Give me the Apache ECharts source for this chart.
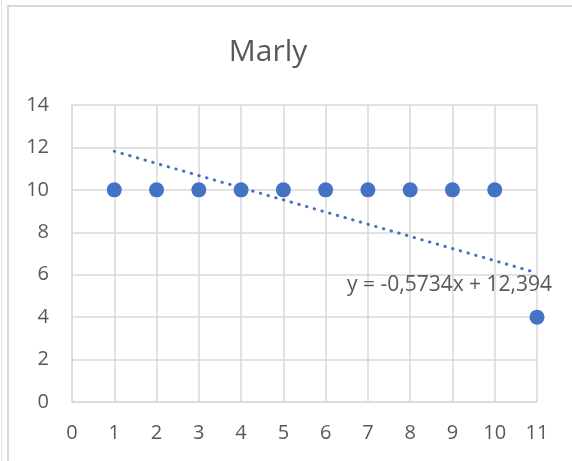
<!DOCTYPE html>
<html>
<head>
<meta charset="utf-8">
<script src="https://cdn.jsdelivr.net/npm/echarts@6/dist/echarts.min.js"></script>
<style>
html,body{margin:0;padding:0;background:#fff;}
#chart{width:572px;height:461px;}
</style>
</head>
<body>
<div id="chart"></div>
<script>
const title = "Marly";
const xValues = [1, 2, 3, 4, 5, 6, 7, 8, 9, 10, 11];
const yValues = [10, 10, 10, 10, 10, 10, 10, 10, 10, 10, 4];
const trendSlope = -0.5734;
const trendIntercept = 12.394;
const trendLabel = "y = -0,5734x + 12,394";
const xTicks = [0, 1, 2, 3, 4, 5, 6, 7, 8, 9, 10, 11];
const yTicks = [0, 2, 4, 6, 8, 10, 12, 14];

const points = xValues.map((x, i) => [x, yValues[i]]);
const xStart = xValues[0], xEnd = xValues[xValues.length - 1];
const trend = [[xStart, trendSlope * xStart + trendIntercept], [xEnd, trendSlope * xEnd + trendIntercept]];

const chart = echarts.init(document.getElementById('chart'), null, {renderer: 'canvas'});
const labelStyle = {color: '#595959', fontSize: 20, fontFamily: 'Open Sans'};
const gridColor = '#d9d9d9';
chart.setOption({
  animation: false,
  backgroundColor: '#fff',
  title: {
    text: title,
    left: 263, top: 32, textAlign: 'center',
    textStyle: {color: '#595959', fontSize: 30, fontWeight: 'normal', fontFamily: 'Open Sans'}
  },
  grid: {left: 72, right: 35, top: 105, bottom: 59},
  xAxis: {
    type: 'value', min: xTicks[0], max: xTicks[xTicks.length - 1], interval: 1,
    axisLine: {show: true, lineStyle: {color: gridColor, width: 1.5}},
    axisTick: {show: false},
    splitLine: {show: true, lineStyle: {color: gridColor, width: 1.5}},
    axisLabel: Object.assign({margin: 21}, labelStyle)
  },
  yAxis: {
    type: 'value', min: yTicks[0], max: yTicks[yTicks.length - 1], interval: 2,
    axisLine: {show: true, lineStyle: {color: gridColor, width: 1.5}},
    axisTick: {show: false},
    splitLine: {show: true, lineStyle: {color: gridColor, width: 1.5}},
    axisLabel: Object.assign({margin: 23}, labelStyle)
  },
  graphic: [
    {type: 'line', shape: {x1: 1.5, y1: 0, x2: 1.5, y2: 461}, style: {stroke: '#e3e3e3', lineWidth: 1}},
    {type: 'line', shape: {x1: 8, y1: 5, x2: 8, y2: 461}, style: {stroke: gridColor, lineWidth: 2}},
    {type: 'line', shape: {x1: 7, y1: 6, x2: 572, y2: 6}, style: {stroke: gridColor, lineWidth: 2}},
    {type: 'text', left: 347, top: 275, z: 10, style: {text: trendLabel, fill: '#595959', fontSize: 21, fontFamily: 'Open Sans'}}
  ],
  series: [
    {
      type: 'line', data: trend, symbol: 'none', silent: true, z: 3,
      lineStyle: {color: '#4472C4', width: 3, type: [0.5, 7.5], cap: 'round'}
    },
    {
      type: 'scatter', data: points, symbol: 'circle', symbolSize: 15, z: 4,
      itemStyle: {color: '#4472C4', opacity: 1}
    }
  ]
});
</script>
</body>
</html>
